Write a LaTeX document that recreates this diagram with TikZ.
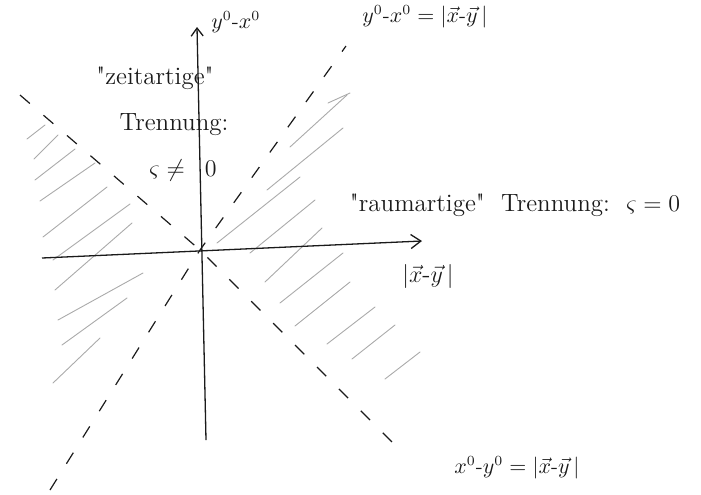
\documentclass[tikz,border=0pt]{standalone}
\usepackage{fontspec}
\usepackage{amsmath}
\usetikzlibrary{arrows.meta}
\definecolor{LcInk}{HTML}{1A1A1A}
\definecolor{LcHatch}{HTML}{AAAAAA}

\begin{document}
\begin{tikzpicture}[x=0.5pt,y=-0.5pt,
  axis/.style={draw=LcInk,line width=0.65pt},
  cone/.style={draw=LcInk,line width=0.6pt,dash pattern=on 6.5pt off 9pt},
  hatch/.style={draw=LcHatch,line width=0.45pt,line cap=round},
  lbl/.style={font=\fontsize{12.5}{14}\selectfont,text=LcInk,inner sep=0pt},
  small/.style={font=\fontsize{10.5}{12}\selectfont,text=LcInk,inner sep=0pt}]
\useasboundingbox (0,0) rectangle (701,494);
\coordinate (O) at (200,250);
\coordinate (yBot) at (206,440);
\coordinate (yTop) at (197,27);
\coordinate (xLeft) at (42,258);
\coordinate (xRight) at (422,241);
\coordinate (coneAlo) at (50,490);
\coordinate (coneAhi) at (346,46);
\coordinate (coneBhi) at (20,95);
\coordinate (coneBlo) at (398,448);
% hatching, left wedge
\foreach \xa/\ya/\xb/\yb in {27/139/45/125, 34/159/58/135, 35/180/75/149,
    40/201/95/163, 43/237/107/187, 53/260/130/204, 55/290/132/223,
    58/320/143/273, 62/345/127/298, 53/383/100/338}
  \draw[hatch] (\xa,\ya) -- (\xb,\yb);
% hatching, right wedge
\foreach \xa/\ya/\xb/\yb in {328/103/350/93, 290/147/347/95, 267/190/343/128,
    217/243/300/177, 250/253/315/200, 265/282/322/228, 280/303/343/253,
    295/326/350/282, 327/344/375/307, 352/359/395/325, 385/379/420/352}
  \draw[hatch] (\xa,\ya) -- (\xb,\yb);
% axes
\draw[axis,-{Straight Barb[length=4pt,width=6pt]}] (yBot) -- (yTop);
\draw[axis,-{Straight Barb[length=5pt,width=7pt]}] (xLeft) -- (xRight);
% light cone
\draw[cone] (coneAlo) -- (O) -- (coneAhi);
\draw[cone] (coneBhi) -- (O) -- (coneBlo);
% labels
\node[small,anchor=west] (ylabel) at (211,22) {$y^0\text{-}x^0$};
\node[lbl,anchor=west] (xlabel) at (402,276) {$|\vec{x}\text{-}\vec{y}\,|$};
\node[small,anchor=west] (lightA) at (362,17) {$y^0\text{-}x^0=|\vec{x}\text{-}\vec{y}\,|$};
\node[small,anchor=west] (lightB) at (454,468) {$x^0\text{-}y^0=|\vec{x}\text{-}\vec{y}\,|$};
\node[lbl] (timeA) at (155,78) {\textquotedbl zeitartige\textquotedbl};
\node[lbl] (timeB) at (174,125) {Trennung:};
\node[lbl] (timeC) at (183,170) {$\varsigma\neq\;\;0$};
\node[lbl] (space) at (515,205) {\textquotedbl raumartige\textquotedbl\ \ Trennung:\ \ $\varsigma=0$};
\end{tikzpicture}
\end{document}
